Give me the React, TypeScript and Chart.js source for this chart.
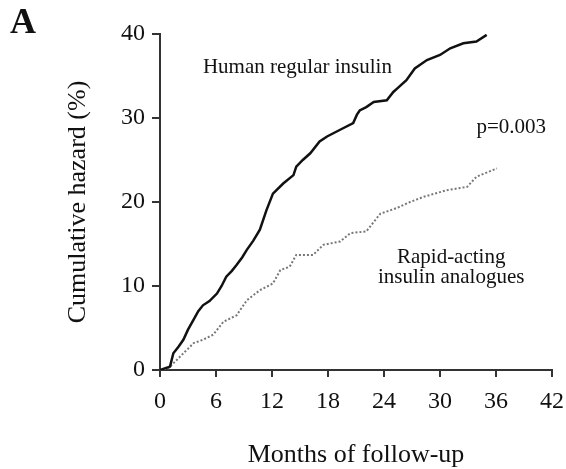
import React, { useEffect, useRef } from "react";
import { Chart, registerables } from "chart.js";

Chart.register(...registerables);

// Months of follow-up / cumulative hazard (%) — human regular insulin
const humanMonths = [0, 0.5, 1.07, 1.43, 2.0, 2.5, 3.0, 3.6, 4.1, 4.6, 5.3, 6.1, 6.6, 7.1, 7.7, 8.2, 8.8, 9.3, 10.0, 10.7, 11.4, 12.1, 13.2, 14.3, 14.6, 15.3, 16.1, 17.1, 17.9, 19.3, 20.7, 21.1, 21.4, 22.1, 22.9, 24.3, 25.0, 25.4, 26.4, 27.3, 28.6, 30.0, 31.1, 32.5, 33.9, 35.0];
const humanHazard = [0, 0.2, 0.4, 2.0, 2.8, 3.6, 4.8, 6.0, 7.0, 7.7, 8.2, 9.1, 10.0, 11.1, 11.8, 12.5, 13.4, 14.3, 15.4, 16.7, 19.0, 21.0, 22.2, 23.2, 24.2, 25.0, 25.8, 27.2, 27.8, 28.6, 29.4, 30.4, 30.9, 31.3, 31.9, 32.1, 33.1, 33.5, 34.5, 35.9, 36.9, 37.5, 38.3, 38.9, 39.1, 39.9];

// Rapid-acting insulin analogues
const analogMonths = [0, 0.7, 1.8, 2.7, 3.6, 4.6, 5.7, 6.8, 8.2, 9.3, 10.7, 12.1, 12.9, 13.9, 14.6, 16.4, 17.5, 19.3, 20.4, 22.1, 23.6, 25.4, 26.8, 28.2, 30.7, 32.9, 33.9, 36.1];
const analogHazard = [0, 0, 1.2, 2.2, 3.2, 3.6, 4.2, 5.75, 6.5, 8.3, 9.5, 10.3, 11.9, 12.3, 13.7, 13.7, 14.9, 15.3, 16.3, 16.5, 18.6, 19.3, 20.0, 20.6, 21.4, 21.8, 23.0, 24.0];

const xTicks = [0, 6, 12, 18, 24, 30, 36, 42];
const yTicks = [0, 10, 20, 30, 40];

const panelLabel = "A";
const humanLabel = "Human regular insulin";
const pLabel = "p=0.003";
const analogLabelLines = ["Rapid-acting", "insulin analogues"];
const xTitle = "Months of follow-up";
const yTitle = "Cumulative hazard (%)";

const FONT = "'Liberation Serif', 'Times New Roman', serif";

export default function App() {
  const ref = useRef<HTMLCanvasElement | null>(null);

  useEffect(() => {
    if (!ref.current) return;

    const textPlugin = {
      id: "annotText",
      afterDraw(chart: any) {
        const ctx = chart.ctx;
        const xs = chart.scales.x;
        const ys = chart.scales.y;
        ctx.save();
        ctx.fillStyle = "#111";
        ctx.textBaseline = "alphabetic";
        ctx.font = `bold 36px ${FONT}`;
        ctx.textAlign = "left";
        ctx.fillText(panelLabel, 10, 33);
        ctx.font = `21px ${FONT}`;
        ctx.fillText(humanLabel, xs.getPixelForValue(4.6), ys.getPixelForValue(35.4));
        ctx.fillText(pLabel, xs.getPixelForValue(33.9), ys.getPixelForValue(28.2));
        ctx.textAlign = "center";
        ctx.fillText(analogLabelLines[0], xs.getPixelForValue(31.2), ys.getPixelForValue(12.7));
        ctx.fillText(analogLabelLines[1], xs.getPixelForValue(31.2), ys.getPixelForValue(10.3));
        ctx.restore();
      },
    };

    const chart = new Chart(ref.current, {
      type: "line",
      data: {
        datasets: [
          {
            label: humanLabel,
            data: humanMonths.map((m, i) => ({ x: m, y: humanHazard[i] })),
            borderColor: "#111",
            borderWidth: 2.5,
            pointRadius: 0,
            tension: 0,
            fill: false,
          },
          {
            label: analogLabelLines.join(" "),
            data: analogMonths.map((m, i) => ({ x: m, y: analogHazard[i] })),
            borderColor: "#777",
            borderWidth: 2,
            borderDash: [2, 2],
            pointRadius: 0,
            tension: 0,
            fill: false,
          },
        ],
      },
      options: {
        responsive: false,
        animation: false,
        devicePixelRatio: 1,
        layout: { padding: { top: 34, right: 14, bottom: 0, left: 0 } },
        plugins: { legend: { display: false }, tooltip: { enabled: false } },
        scales: {
          x: {
            type: "linear",
            min: 0,
            max: 42,
            afterBuildTicks: (s: any) => {
              s.ticks = xTicks.map((v) => ({ value: v }));
            },
            afterFit: (s: any) => {
              s.height = 99;
              s.paddingLeft = 0;
              s.paddingRight = 0;
            },
            ticks: {
              font: { family: FONT, size: 24 },
              color: "#111",
              padding: 10,
              maxRotation: 0,
              autoSkip: false,
            },
            grid: {
              drawOnChartArea: false,
              drawTicks: true,
              tickLength: 7,
              color: "#333",
              lineWidth: 2,
            },
            border: { display: true, color: "#333", width: 2 },
            title: {
              display: true,
              text: xTitle,
              font: { family: FONT, size: 26, lineHeight: 1.1 },
              color: "#111",
              padding: { top: 0, bottom: 0 },
            },
          },
          y: {
            type: "linear",
            min: 0,
            max: 40,
            afterBuildTicks: (s: any) => {
              s.ticks = yTicks.map((v) => ({ value: v }));
            },
            afterFit: (s: any) => {
              s.width = 160;
              s.paddingTop = 0;
              s.paddingBottom = 0;
            },
            ticks: {
              font: { family: FONT, size: 24 },
              color: "#111",
              padding: 7,
              autoSkip: false,
            },
            grid: {
              drawOnChartArea: false,
              drawTicks: true,
              tickLength: 8,
              color: "#333",
              lineWidth: 2,
            },
            border: { display: true, color: "#333", width: 2 },
            title: {
              display: true,
              text: yTitle,
              font: { family: FONT, size: 26, lineHeight: 1.1 },
              color: "#111",
              padding: { top: 64, bottom: 0 },
            },
          },
        },
      },
      plugins: [textPlugin],
    } as any);

    return () => chart.destroy();
  }, []);

  return (
    <canvas
      ref={ref}
      width={566}
      height={469}
      style={{ position: "absolute", left: 0, top: 0, width: 566, height: 469, background: "#fff" }}
    />
  );
}
